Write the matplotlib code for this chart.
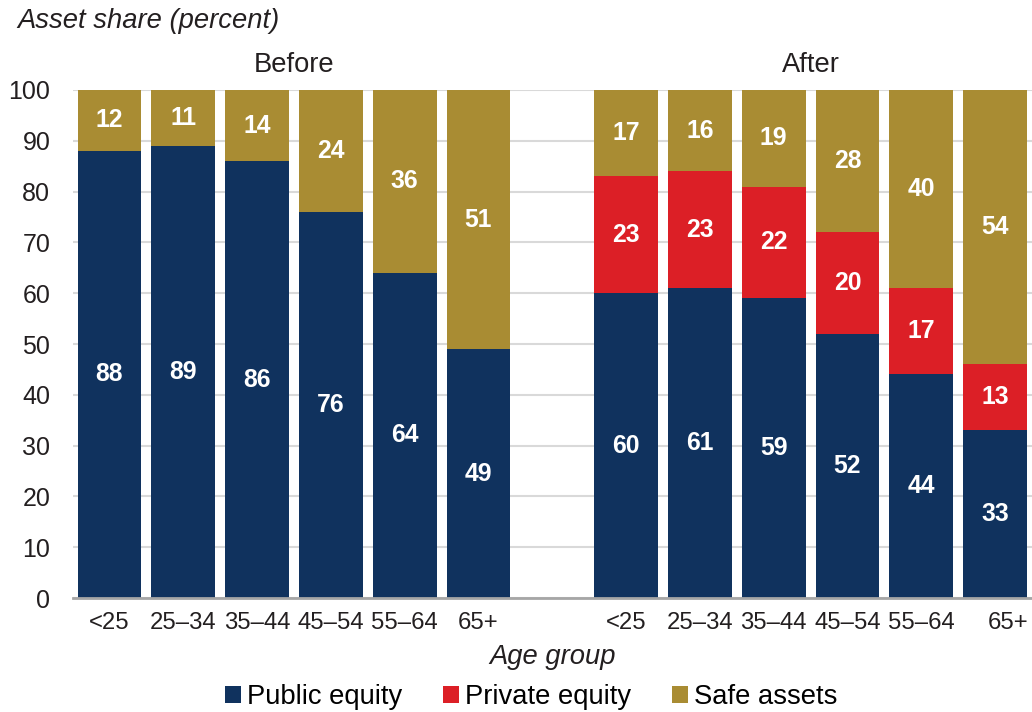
import matplotlib
matplotlib.use("Agg")
import matplotlib.pyplot as plt
from matplotlib.patches import Patch
from matplotlib.transforms import ScaledTranslation
import numpy as np

plt.rcParams["font.family"] = ["Liberation Sans", "DejaVu Sans"]

age_groups = ["<25", "25–34", "35–44", "45–54", "55–64", "65+"]

before_public = [88, 89, 86, 76, 64, 49]
before_safe = [12, 11, 14, 24, 36, 51]

after_public = [60, 61, 59, 52, 44, 33]
after_private = [23, 23, 22, 20, 17, 13]
after_safe = [17, 16, 19, 28, 40, 54]

series_names = ["Public equity", "Private equity", "Safe assets"]
navy = "#10325E"
red = "#DC1F26"
gold = "#A98C33"
text_color = "#231F20"
fs = 19.7

fig = plt.figure(figsize=(10.32, 7.12), dpi=100)
ax = fig.add_axes([0.0703, 0.1601, 0.9297, 0.7135])

n = len(age_groups)
x_before = np.arange(n)
x_after = np.arange(n) + n + 1
width = 0.865

def label_segments(xs, bottoms, heights):
    for x, b, h in zip(xs, bottoms, heights):
        y = (b + min(b + h, 100)) / 2
        ax.text(x, y, f"{h}", ha="center", va="center", color="white",
                fontsize=17.8, fontweight="bold")

# Before: public equity + safe assets
ax.bar(x_before, before_public, width, color=navy, zorder=2)
ax.bar(x_before, before_safe, width, bottom=before_public, color=gold, zorder=2)
label_segments(x_before, [0] * n, before_public)
label_segments(x_before, before_public, before_safe)

# After: public + private equity + safe assets
after_mid = np.array(after_public) + np.array(after_private)
ax.bar(x_after, after_public, width, color=navy, zorder=2)
ax.bar(x_after, after_private, width, bottom=after_public, color=red, zorder=2)
ax.bar(x_after, after_safe, width, bottom=after_mid, color=gold, zorder=2)
label_segments(x_after, [0] * n, after_public)
label_segments(x_after, after_public, after_private)
label_segments(x_after, after_mid, after_safe)

ax.set_xlim(-0.5, 2 * n + 0.5)
ax.set_ylim(0, 100)
ax.set_yticks(np.arange(0, 101, 10))
ax.yaxis.grid(True, color="#D9D9D9", linewidth=1.5, zorder=0)
ax.set_axisbelow(True)

ticks = list(x_before) + list(x_after)
ax.set_xticks(ticks)
ax.set_xticklabels(age_groups + age_groups)
ax.tick_params(axis="both", length=0, colors=text_color)
ax.tick_params(axis="x", pad=10, labelsize=17.2)
ax.tick_params(axis="y", pad=16, labelsize=18)

last = ax.get_xticklabels()[-1]
last.set_transform(last.get_transform() + ScaledTranslation(0.13, 0, fig.dpi_scale_trans))

for side in ["top", "right", "left"]:
    ax.spines[side].set_visible(False)
ax.spines["bottom"].set_color("#A6A6A6")
ax.spines["bottom"].set_linewidth(2)
ax.spines["bottom"].set_zorder(3)

ax.set_xlabel("Age group", fontsize=fs, fontstyle="italic", color=text_color, labelpad=7)

ax.text(np.mean(x_before), 102.3, "Before", ha="center", va="bottom", fontsize=fs, color=text_color)
ax.text(np.mean(x_after), 102.3, "After", ha="center", va="bottom", fontsize=fs, color=text_color)

fig.text(0.017, 0.97, "Asset share (percent)", ha="left", va="center",
         fontsize=fs, fontstyle="italic", color=text_color)

handles = [Patch(facecolor=c) for c in (navy, red, gold)]
fig.legend(handles, series_names, loc="center", bbox_to_anchor=(0.5145, 0.021),
           ncol=3, frameon=False, fontsize=fs, handlelength=0.6, handleheight=0.6,
           handletextpad=0.2, columnspacing=1.5, borderaxespad=0)

fig.savefig("out.png", dpi=100)
